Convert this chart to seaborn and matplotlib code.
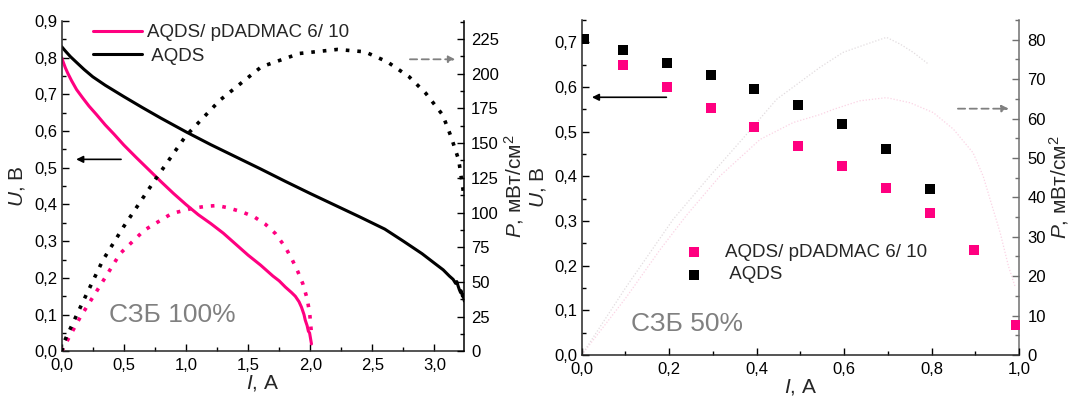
import numpy as np
import pandas as pd
import matplotlib
matplotlib.use("Agg")
import matplotlib.pyplot as plt
import seaborn as sns
from matplotlib.ticker import FixedLocator, MultipleLocator, FuncFormatter

# ---------------- data: panel "СЗБ 100%" ----------------
# polarization curves U(I)
i_pd = [0.0, 0.01, 0.03, 0.05, 0.08, 0.12, 0.17, 0.22, 0.28, 0.35, 0.42, 0.50, 0.60, 0.70,
        0.80, 0.90, 1.00, 1.10, 1.20, 1.30, 1.40, 1.50, 1.60, 1.70, 1.75, 1.80, 1.85, 1.88,
        1.91, 1.93, 1.95, 1.96, 1.975, 1.985, 1.995, 2.0, 2.005, 2.01]
u_pd = [0.80, 0.79, 0.772, 0.757, 0.737, 0.713, 0.69, 0.668, 0.645, 0.617, 0.592, 0.562,
        0.528, 0.495, 0.462, 0.43, 0.40, 0.372, 0.348, 0.322, 0.292, 0.262, 0.235, 0.205,
        0.192, 0.175, 0.16, 0.15, 0.135, 0.12, 0.10, 0.085, 0.07, 0.055, 0.05, 0.04, 0.03, 0.02]
i_aq = [0.0, 0.03, 0.07, 0.12, 0.18, 0.25, 0.35, 0.50, 0.65, 0.80, 1.00, 1.20, 1.40, 1.60,
        1.80, 2.00, 2.20, 2.40, 2.60, 2.75, 2.90, 3.00, 3.07, 3.12, 3.15, 3.17, 3.18, 3.19,
        3.20, 3.21, 3.215, 3.225, 3.23, 3.24]
u_aq = [0.83, 0.818, 0.803, 0.787, 0.768, 0.748, 0.725, 0.694, 0.664, 0.635, 0.598, 0.563,
        0.53, 0.497, 0.463, 0.43, 0.398, 0.366, 0.333, 0.30, 0.266, 0.24, 0.222, 0.205,
        0.196, 0.185, 0.19, 0.178, 0.168, 0.16, 0.165, 0.15, 0.155, 0.137]
# power density curves P(I)
ip_pd = [0.0, 0.05, 0.15, 0.303, 0.47, 0.664, 0.886, 1.05, 1.163, 1.25, 1.33, 1.45, 1.55,
         1.64, 1.72, 1.80, 1.857, 1.90, 1.94, 1.975, 1.996, 2.01]
p_pd = [0.0, 8.5, 24.7, 46.4, 70.4, 87.2, 99.3, 103.0, 104.5, 105.0, 103.6, 100.5, 96.8,
        91.5, 84.8, 75.0, 65.6, 57.5, 48.8, 38.0, 27.2, 12.7]
ip_aq = [0.0, 0.025, 0.164, 0.331, 0.497, 0.747, 0.997, 1.274, 1.607, 1.913, 2.218, 2.44,
         2.62, 2.796, 2.93, 3.066, 3.133, 3.195, 3.236]
p_aq = [0.0, 7.9, 34.4, 65.6, 89.6, 123.0, 155.0, 181.0, 205.0, 214.6, 217.5, 215.8,
        208.6, 197.8, 185.9, 170.3, 154.7, 137.9, 112.7]

# ---------------- data: panel "СЗБ 50%" ----------------
i50_pd = [0.095, 0.195, 0.295, 0.395, 0.495, 0.596, 0.695, 0.796, 0.896, 0.994]
u50_pd = [0.649, 0.599, 0.553, 0.511, 0.467, 0.424, 0.375, 0.317, 0.234, 0.067]
i50_aq = [0.005, 0.095, 0.195, 0.295, 0.395, 0.495, 0.596, 0.695, 0.796]
u50_aq = [0.707, 0.682, 0.654, 0.626, 0.595, 0.559, 0.517, 0.461, 0.371]
ip50_pd = [0.0, 0.103, 0.179, 0.24, 0.316, 0.408, 0.484, 0.545, 0.575, 0.636, 0.697, 0.751,
           0.804, 0.85, 0.895, 0.918, 0.938, 0.957, 0.976, 0.991]
p50_pd = [0.0, 14.8, 26.7, 35.5, 45.4, 54.7, 59.0, 61.0, 62.3, 64.5, 65.3, 64.0,
          61.5, 57.3, 51.3, 45.4, 38.0, 31.0, 22.5, 17.4]
ip50_aq = [0.0, 0.10, 0.209, 0.293, 0.377, 0.446, 0.545, 0.598, 0.652, 0.697, 0.728, 0.758, 0.793]
p50_aq = [0.0, 17.0, 34.4, 45.4, 56.0, 64.9, 73.0, 76.8, 78.9, 80.6, 78.9, 76.8, 73.8]

label_pd = "AQDS/ pDADMAC 6/ 10"
label_aq = " AQDS"

PINK = "#FF0080"
BLACK = "#000000"
GREY = "#808080"

sns.set_theme(style="ticks")
plt.rcParams["font.family"] = ["Liberation Sans", "DejaVu Sans"]
plt.rcParams["mathtext.fontset"] = "custom"
plt.rcParams["mathtext.rm"] = "Liberation Sans"
plt.rcParams["mathtext.it"] = "Liberation Sans:italic"
plt.rcParams["axes.linewidth"] = 1.1

TICK_FS = 12
LAB_FS = 15
LEG_FS = 13.5
TXT_FS = 19

comma1 = FuncFormatter(lambda v, p: f"{v:.1f}".replace(".", ","))
intfmt = FuncFormatter(lambda v, p: f"{v:.0f}")

fig = plt.figure(figsize=(10.71, 3.99), dpi=100)
ax1 = fig.add_axes([61.7 / 1071, (399 - 351.3) / 399, 402.6 / 1071, 330.3 / 399])
ax2 = fig.add_axes([581.7 / 1071, (399 - 355) / 399, 437.3 / 1071, 335 / 399])
ax1r = ax1.twinx()
ax2r = ax2.twinx()


def style_axes(ax, axr, right_color):
    for a in (ax, axr):
        a.spines["top"].set_visible(False)
        a.tick_params(which="both", direction="in", width=1.0, labelsize=TICK_FS, colors="black")
        a.tick_params(which="major", length=5)
        a.tick_params(which="minor", length=3)
    ax.spines["right"].set_visible(False)
    axr.spines["left"].set_visible(False)
    axr.spines["bottom"].set_visible(False)
    axr.spines["right"].set_color(right_color)
    axr.tick_params(axis="y", which="both", color=right_color, labelcolor="black", pad=5)
    ax.tick_params(axis="y", which="both", pad=3)
    ax.tick_params(axis="x", which="both", pad=5)
    ax.tick_params(axis="x", top=False)


# ---------------- left panel ----------------
sns.lineplot(x=i_pd, y=u_pd, ax=ax1, color=PINK, lw=2.2, sort=False, estimator=None, label=label_pd)
sns.lineplot(x=i_aq, y=u_aq, ax=ax1, color=BLACK, lw=2.2, sort=False, estimator=None, label=label_aq)
sns.lineplot(x=ip_pd, y=p_pd, ax=ax1r, color=PINK, lw=2.6, sort=False, estimator=None,
             linestyle=(0, (1, 2.2)), legend=False)
sns.lineplot(x=ip_aq, y=p_aq, ax=ax1r, color=BLACK, lw=2.6, sort=False, estimator=None,
             linestyle=(0, (1, 2.2)), legend=False)

ax1.set_xlim(0, 3.24)
ax1.set_ylim(0, 0.9)
ax1r.set_ylim(0, 238)
ax1.xaxis.set_major_locator(FixedLocator([0, 0.5, 1.0, 1.5, 2.0, 2.5, 3.0]))
ax1.xaxis.set_minor_locator(MultipleLocator(0.25))
ax1.yaxis.set_major_locator(MultipleLocator(0.1))
ax1.yaxis.set_minor_locator(MultipleLocator(0.05))
ax1.xaxis.set_major_formatter(comma1)
ax1.yaxis.set_major_formatter(comma1)
ax1r.yaxis.set_major_locator(MultipleLocator(25))
ax1r.yaxis.set_minor_locator(MultipleLocator(12.5))
ax1r.yaxis.set_major_formatter(intfmt)
style_axes(ax1, ax1r, "black")

ax1.set_xlabel(r"$\mathit{I}$, А", fontsize=LAB_FS, labelpad=0)
ax1.set_ylabel(r"$\mathit{U}$, В", fontsize=LAB_FS)
ax1.yaxis.set_label_coords(-0.086, 0.5)
ax1r.set_ylabel(r"$\mathit{P}$, мВт/см$^2$", fontsize=LAB_FS)
ax1r.yaxis.set_label_coords(1.094, 0.5)

leg1 = ax1.legend(loc="upper left", bbox_to_anchor=(0.078, 0.99), frameon=False,
                  fontsize=LEG_FS, handlelength=2.6, handletextpad=0.3, labelspacing=0.34,
                  borderaxespad=0, borderpad=0)
ax1.text(0.38, 0.1, "СЗБ 100%", color=GREY, fontsize=TXT_FS, ha="left", va="center")
ax1.annotate("", xy=(0.094, 0.523), xytext=(0.5, 0.523),
             arrowprops=dict(arrowstyle="-|>", color="black", lw=1.2, mutation_scale=10))
ax1r.annotate("", xy=(3.19, 210.4), xytext=(2.78, 210.4),
              arrowprops=dict(arrowstyle="-|>", color=GREY, lw=1.3, linestyle=(0, (4, 2.5)),
                              mutation_scale=10))

# ---------------- right panel ----------------
sns.lineplot(x=ip50_pd, y=p50_pd, ax=ax2r, color="#FBD3E4", lw=0.9, sort=False, estimator=None,
             linestyle=(0, (1, 1.5)), legend=False)
sns.lineplot(x=ip50_aq, y=p50_aq, ax=ax2r, color="#E2DCDF", lw=0.9, sort=False, estimator=None,
             linestyle=(0, (1, 1.5)), legend=False)
sns.scatterplot(x=i50_pd, y=u50_pd, ax=ax2, color=PINK, marker="s", s=46, linewidth=0,
                label=label_pd, zorder=3)
sns.scatterplot(x=i50_aq, y=u50_aq, ax=ax2, color=BLACK, marker="s", s=46, linewidth=0,
                label=label_aq, zorder=3)
ax2.set_zorder(ax2r.get_zorder() + 1)
ax2.patch.set_visible(False)

ax2.set_xlim(0, 1.0)
ax2.set_ylim(0, 0.75)
ax2r.set_ylim(0, 85)
ax2.xaxis.set_major_locator(MultipleLocator(0.2))
ax2.xaxis.set_minor_locator(MultipleLocator(0.1))
ax2.yaxis.set_major_locator(MultipleLocator(0.1))
ax2.yaxis.set_minor_locator(MultipleLocator(0.05))
ax2.xaxis.set_major_formatter(comma1)
ax2.yaxis.set_major_formatter(comma1)
ax2r.yaxis.set_major_locator(MultipleLocator(10))
ax2r.yaxis.set_minor_locator(MultipleLocator(5))
ax2r.yaxis.set_major_formatter(intfmt)
style_axes(ax2, ax2r, "#707070")
ax2.spines["right"].set_visible(False)
ax2r.tick_params(axis="y", pad=6)

ax2.set_xlabel(r"$\mathit{I}$, А", fontsize=LAB_FS, labelpad=0)
ax2.set_ylabel(r"$\mathit{U}$, В", fontsize=LAB_FS)
ax2.yaxis.set_label_coords(-0.077, 0.5)
ax2r.set_ylabel(r"$\mathit{P}$, мВт/см$^2$", fontsize=LAB_FS)
ax2r.yaxis.set_label_coords(1.064, 0.5)

leg2 = ax2.legend(loc="upper left", bbox_to_anchor=(0.235, 0.331), frameon=False,
                  fontsize=LEG_FS, handlelength=1.0, handletextpad=1.15, labelspacing=0.27,
                  borderaxespad=0, borderpad=0, markerscale=1.0)
ax2.text(0.112, 0.07, "СЗБ 50%", color=GREY, fontsize=TXT_FS, ha="left", va="center")
ax2.annotate("", xy=(0.017, 0.577), xytext=(0.2, 0.577),
             arrowprops=dict(arrowstyle="-|>", color="black", lw=1.2, mutation_scale=10))
ax2r.annotate("", xy=(0.983, 62.5), xytext=(0.854, 62.5),
              arrowprops=dict(arrowstyle="-|>", color=GREY, lw=1.3, linestyle=(0, (4, 2.5)),
                              mutation_scale=10))

fig.savefig("out.png", dpi=100)
